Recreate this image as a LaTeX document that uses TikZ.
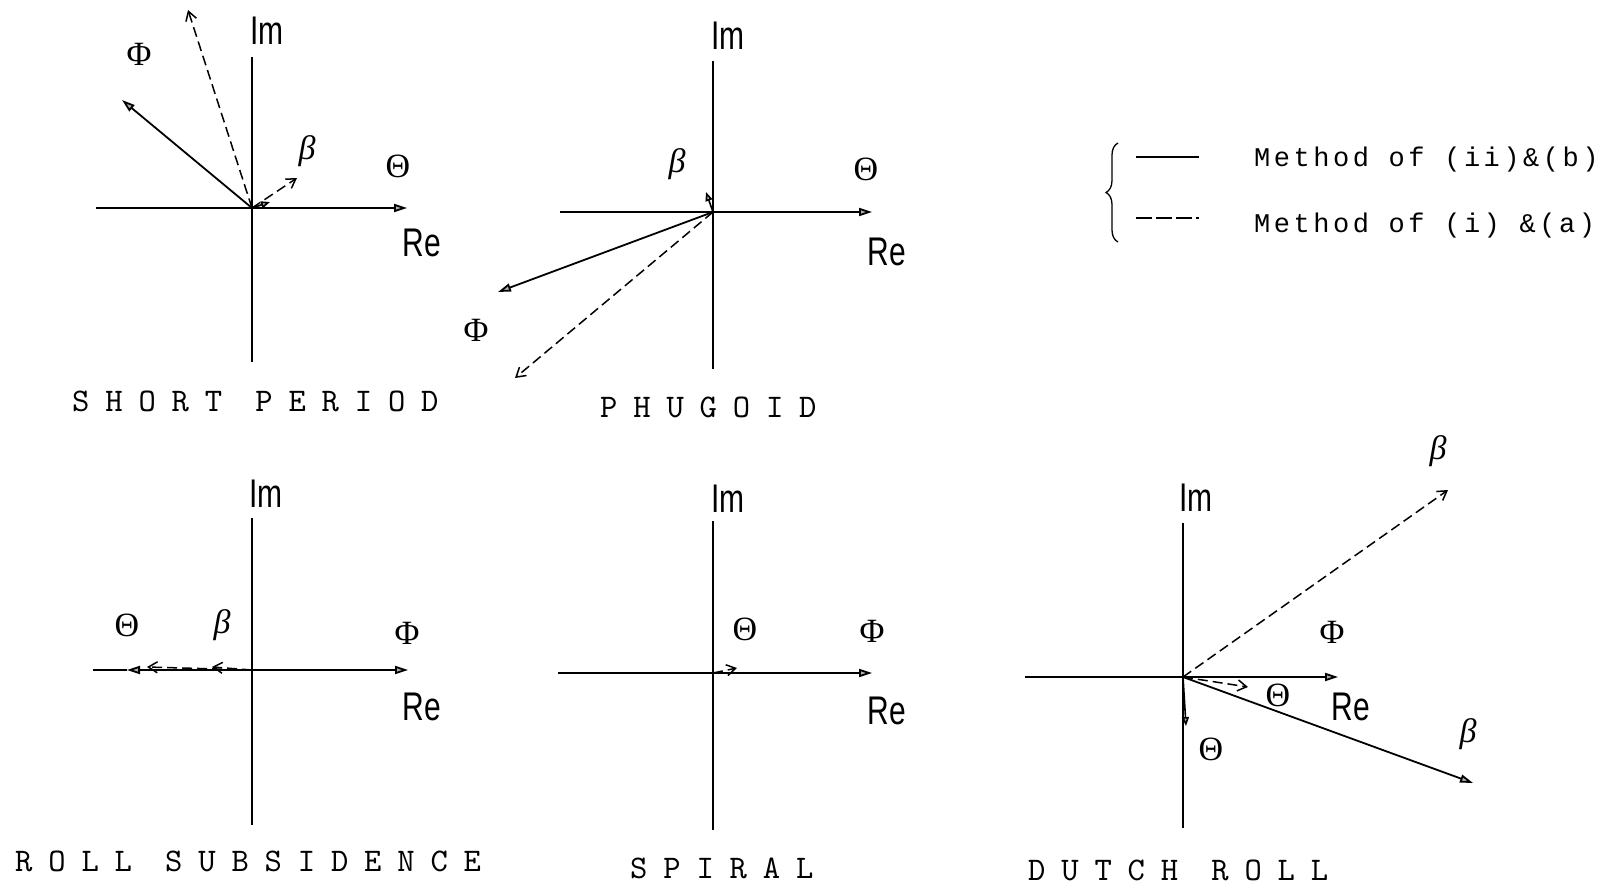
\documentclass[tikz,border=0pt]{standalone}
\usepackage{fontspec}
\usetikzlibrary{arrows.meta,decorations.pathreplacing}
\newfontfamily\lblfont{Liberation Sans}
\newfontfamily\grfont{Liberation Serif}
\newfontfamily\legfont{Liberation Mono}[LetterSpace=13]
\newfontfamily\titfont{lmmono10-regular}[Extension=.otf,LetterSpace=48]
\begin{document}
\begin{tikzpicture}[x=1pt,y=-1pt,
  ax/.style={line width=1.8pt},
  sol/.style={line width=1.8pt,-{Triangle[length=13pt,width=8pt,fill=gray!60]}},
  soltiny/.style={line width=1.6pt,-{Triangle[length=9pt,width=7pt,fill=gray!60]}},
  dsh/.style={line width=1.5pt,dash pattern=on 10pt off 5pt,-{Straight Barb[length=9pt,width=11pt,line width=1.5pt]}},
  lbl/.style={font=\lblfont\fontsize{40}{40}\selectfont,inner sep=0pt},
  gk/.style={font=\grfont\fontsize{34}{34}\selectfont,inner sep=0pt},
  ttl/.style={anchor=base west,font=\titfont\fontsize{33}{33}\selectfont,inner sep=0pt},
  leg/.style={anchor=base west,font=\legfont\fontsize{27}{27}\selectfont,inner sep=0pt}]
\useasboundingbox (0,0) rectangle (1607,888);

% ---------- Panel 1: short period ----------
\coordinate (o1) at (252,208);
\coordinate (l1) at (96,208); \coordinate (r1) at (407,208);
\coordinate (t1) at (252,57); \coordinate (b1) at (252,362);
\draw[ax] (l1) -- (o1);
\draw[ax] (t1) -- (b1);
\draw[sol] (o1) -- (r1);
\coordinate (phi1s) at (122,100); \draw[sol] (o1) -- (phi1s);
\coordinate (phi1d) at (188,10); \draw[dsh] (o1) -- (phi1d);
\coordinate (be1d) at (297,178); \draw[dsh] (o1) -- (be1d);
\coordinate (be1s) at (270,202); \draw[soltiny] (o1) -- (be1s);
\node[lbl] (im1) at (267,31) {\scalebox{0.75}[1]{Im}};
\node[lbl] (re1) at (422,243) {\scalebox{0.75}[1]{Re}};
\node[gk] (gphi1) at (139,54) {Φ};
\node[gk] (gbe1) at (307,151) {\itshape β};
\node[gk] (gth1) at (398,166) {Θ};
\node[ttl] (tsp) at (72,411) {SHORT PERIOD};

% ---------- Panel 2: phugoid ----------
\coordinate (o2) at (713,212);
\coordinate (l2) at (560,212); \coordinate (r2) at (872,212);
\coordinate (t2) at (713,61); \coordinate (b2) at (713,369);
\draw[ax] (l2) -- (o2);
\draw[ax] (t2) -- (b2);
\draw[sol] (o2) -- (r2);
\coordinate (phi2s) at (498,292); \draw[sol] (o2) -- (phi2s);
\coordinate (phi2d) at (515,378); \draw[dsh] (o2) -- (phi2d);
\coordinate (be2s) at (706,192); \draw[soltiny] (o2) -- (be2s);
\node[lbl] (im2) at (728,36) {\scalebox{0.75}[1]{Im}};
\node[lbl] (re2) at (887,252) {\scalebox{0.75}[1]{Re}};
\node[gk] (gbe2) at (677,164) {\itshape β};
\node[gk] (gth2) at (866,169) {Θ};
\node[gk] (gphi2) at (476,330) {Φ};
\node[ttl] (tph) at (600,417) {PHUGOID};

% ---------- Legend ----------
\draw[line width=1.3pt,decorate,decoration={brace,amplitude=12pt}] (1118,242) -- (1118,143);
\coordinate (ls1) at (1136,157); \coordinate (le1) at (1199,157);
\coordinate (ls2) at (1136,218); \coordinate (le2) at (1199,218);
\draw[line width=1.5pt] (ls1) -- (le1);
\draw[line width=1.5pt,dash pattern=on 16pt off 4pt] (ls2) -- (le2);
\node[leg] (leg1) at (1254,167) {Method of (ii)\&(b)};
\node[leg] (leg2) at (1254,232) {Method of (i) \&(a)};

% ---------- Panel 3: roll subsidence ----------
\coordinate (o3) at (252,670);
\coordinate (l3) at (93,670); \coordinate (r3) at (408,670);
\coordinate (t3) at (252,518); \coordinate (b3) at (252,825);
\coordinate (th3s) at (127,670);
\draw[ax] (t3) -- (b3);
\draw[ax] (th3s) -- (l3);
\draw[sol] (o3) -- (th3s);
\draw[sol] (o3) -- (r3);
\coordinate (th3d) at (147,667); \draw[dsh] (o3) -- (th3d);
\coordinate (be3d) at (212,667); \draw[dsh] (o3) -- (be3d);
\node[lbl] (im3) at (266,494) {\scalebox{0.75}[1]{Im}};
\node[lbl] (re3) at (422,707) {\scalebox{0.75}[1]{Re}};
\node[gk] (gth3) at (127,625) {Θ};
\node[gk] (gbe3) at (222,625) {\itshape β};
\node[gk] (gphi3) at (407,633) {Φ};
\node[ttl] (trs) at (15,871) {ROLL SUBSIDENCE};

% ---------- Panel 4: spiral ----------
\coordinate (o4) at (713,673);
\coordinate (l4) at (558,673); \coordinate (r4) at (872,673);
\coordinate (t4) at (713,521); \coordinate (b4) at (713,830);
\draw[ax] (l4) -- (o4);
\draw[ax] (t4) -- (b4);
\draw[sol] (o4) -- (r4);
\coordinate (th4d) at (737,668); \draw[dsh] (o4) -- (th4d);
\node[lbl] (im4) at (728,499) {\scalebox{0.75}[1]{Im}};
\node[lbl] (re4) at (887,711) {\scalebox{0.75}[1]{Re}};
\node[gk] (gth4) at (745,629) {Θ};
\node[gk] (gphi4) at (872,631) {Φ};
\node[ttl] (tspi) at (630,878) {SPIRAL};

% ---------- Panel 5: dutch roll ----------
\coordinate (o5) at (1183,677);
\coordinate (l5) at (1025,677); \coordinate (r5) at (1338,677);
\coordinate (t5) at (1183,523); \coordinate (b5) at (1183,828);
\draw[ax] (l5) -- (o5);
\draw[ax] (t5) -- (b5);
\draw[sol] (o5) -- (r5);
\coordinate (be5d) at (1448,490); \draw[dsh] (o5) -- (be5d);
\coordinate (th5d) at (1248,687); \draw[dsh] (o5) -- (th5d);
\coordinate (be5s) at (1473,783); \draw[sol] (o5) -- (be5s);
\coordinate (th5s) at (1186,726); \draw[soltiny] (o5) -- (th5s);
\node[lbl] (im5) at (1196,498) {\scalebox{0.75}[1]{Im}};
\node[lbl] (re5) at (1351,707) {\scalebox{0.75}[1]{Re}};
\node[gk] (gbe5a) at (1438,451) {\itshape β};
\node[gk] (gphi5) at (1332,632) {Φ};
\node[gk] (gth5a) at (1278,695) {Θ};
\node[gk] (gbe5b) at (1468,734) {\itshape β};
\node[gk] (gth5b) at (1211,749) {Θ};
\node[ttl] (tdr) at (1028,880) {DUTCH ROLL};
\end{tikzpicture}
\end{document}
